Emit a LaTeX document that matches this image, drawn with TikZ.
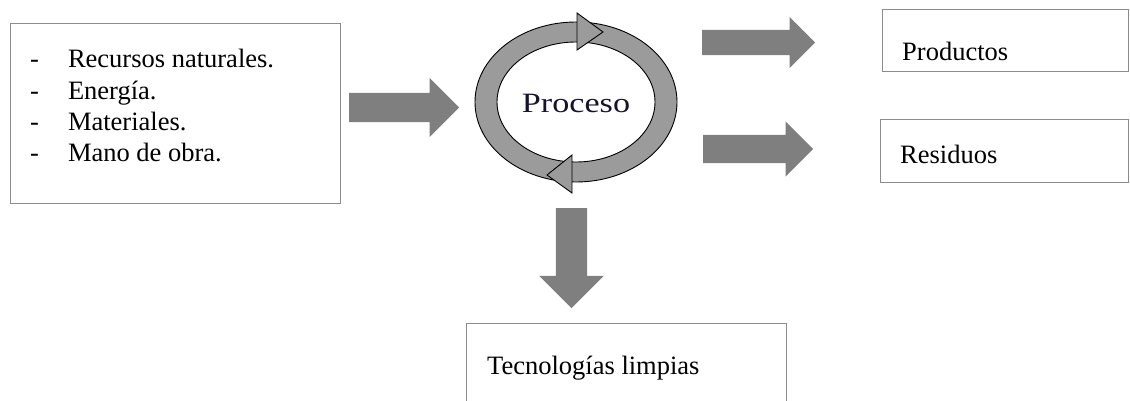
\documentclass[tikz,border=0pt]{standalone}
\usepackage{fontspec}
\setmainfont{Liberation Serif}
\usepackage{tikz}
\usetikzlibrary{calc}
\usetikzlibrary{positioning}
\usetikzlibrary{shapes.arrows}
\usepackage{xcolor}

\definecolor{grisflecha}{RGB}{127,127,127}
\definecolor{grisanillo}{RGB}{155,155,155}
\definecolor{grisborde}{RGB}{140,140,140}
\definecolor{tinta}{RGB}{20,20,45}

\begin{document}
\begin{tikzpicture}[x=1pt, y=-1pt,
	caja/.style={rectangle, draw=grisborde, line width=0.9pt, anchor=north west, inner sep=0},
	texto/.style={anchor=base west, inner sep=0, font=\fontsize{26.5}{31.3}\selectfont},
	flecha/.style={single arrow, fill=grisflecha, draw=none, anchor=tail, inner xsep=0pt},
	]
	\clip (0,0) rectangle (1130,401);
	
	%Cajas
	\node[caja, minimum width=330, minimum height=180] (insumos)    at (10,23)  {};
	\node[caja, minimum width=246, minimum height=62]  (productos)  at (882,9)  {};
	\node[caja, minimum width=248, minimum height=63]  (residuos)   at (880,119) {};
	\node[caja, minimum width=320, minimum height=95]  (tecnologia) at (466,323) {};
	
	%Textos
	\node[texto] (lista) at (30,68) {\begin{tabular}[t]{@{}l@{\hspace{29pt}}l@{}}
		- & Recursos naturales.\\
		- & Energía.\\
		- & Materiales.\\
		- & Mano de obra.
	\end{tabular}};
	\node[texto] (tproductos)  at (902,61)  {Productos};
	\node[texto] (tresiduos)   at (900,164) {Residuos};
	\node[texto] (ttecnologia) at (487,374) {Tecnologías limpias};
	
	%Ciclo
	\coordinate (c) at (576,102);
	\fill[grisanillo, even odd rule] (c) ellipse [x radius=101pt, y radius=80pt]
		(c) ellipse [x radius=79pt, y radius=60pt];
	\draw[line width=0.9pt] (c) ellipse [x radius=101pt, y radius=80pt];
	\draw[line width=0.9pt] (c) ellipse [x radius=79pt, y radius=60pt];
	\filldraw[fill=grisanillo, draw=black, line width=0.9pt, line join=miter] (577,13) -- (603,32) -- (577,50) -- cycle;
	\filldraw[fill=grisanillo, draw=black, line width=0.9pt, line join=miter] (572,155) -- (547,175) -- (572,193) -- cycle;
	\node[font=\fontsize{28}{30}\selectfont, text=tinta, inner sep=0] (proceso) at (576,103) {\scalebox{1.22}[1]{Proceso}};
	
	%Flechas
	\node[flecha, minimum height=110, inner ysep=14.5pt, single arrow head extend=15pt] (entrada) at (349,107.5) {};
	\node[flecha, minimum height=113, inner ysep=12.5pt, single arrow head extend=13pt] (salida1) at (702,42.5) {};
	\node[flecha, minimum height=110, inner ysep=14pt, single arrow head extend=13.5pt] (salida2) at (703,149) {};
	\node[flecha, minimum height=100, inner xsep=15.5pt, inner ysep=0pt, single arrow head extend=16.5pt, shape border rotate=270] (mejora) at (571.5,208) {};
\end{tikzpicture}
\end{document}
